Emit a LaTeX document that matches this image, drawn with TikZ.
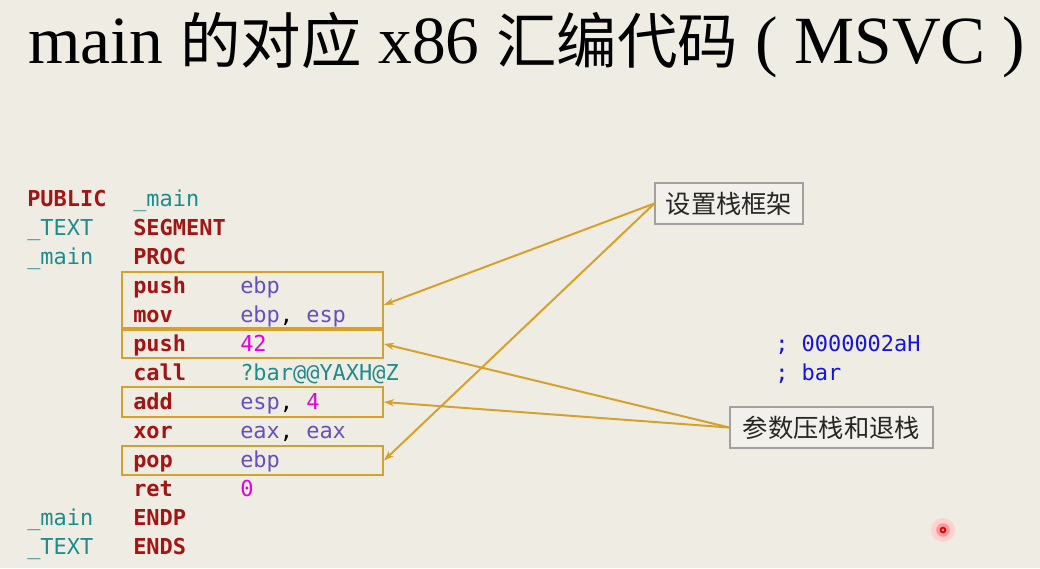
\documentclass[tikz,border=0pt]{standalone}
\usepackage{fontspec}
\setmainfont{Liberation Serif}
\setmonofont{DejaVu Sans Mono}
\newfontfamily\cjk{Noto Sans CJK SC}
\usepackage{xcolor}
\usepackage{tikz}
\usetikzlibrary{arrows.meta}

\definecolor{bgc}{RGB}{239,236,227}
\definecolor{kwred}{RGB}{163,21,21}
\definecolor{idteal}{RGB}{30,140,140}
\definecolor{regpurple}{RGB}{100,80,190}
\definecolor{nummag}{RGB}{225,0,225}
\definecolor{cmtblue}{RGB}{20,20,225}
\definecolor{hlorange}{RGB}{215,160,40}
\definecolor{tagfill}{RGB}{242,240,234}
\definecolor{taggray}{RGB}{160,160,160}

\newcommand{\kw}[1]{\textcolor{kwred}{\bfseries #1}}
\newcommand{\id}[1]{\textcolor{idteal}{#1}}
\newcommand{\rg}[1]{\textcolor{regpurple}{#1}}
\newcommand{\nm}[1]{\textcolor{nummag}{#1}}
\newcommand{\zh}[1]{{\cjk\fontsize{43}{50}\selectfont #1}}

\tikzset{
  code/.style={font=\ttfamily\fontsize{15.6}{18}\selectfont, inner sep=0, anchor=base west},
  hlbox/.style={draw=hlorange, line width=1.4pt, minimum width=6.525cm, inner sep=0},
  tag/.style={draw=taggray, fill=tagfill, line width=0.9pt, minimum height=1.025cm, inner sep=0,
    font=\cjk\fontsize{18}{20}\selectfont, text=black!85},
  pointer/.style={draw=hlorange, line width=1.4pt, -{Stealth[length=7pt,width=5pt]}}
}

\begin{document}
\begin{tikzpicture}[x=0.025cm,y=-0.025cm]
		\fill[bgc] (0,0) rectangle (1040,568);
		\node[anchor=base west, inner sep=0] (title) at (28,63)
			{\fontsize{48}{54}\selectfont main \zh{的对应} x86 \zh{汇编代码} ( MSVC )};
		% code listing
		\foreach \i/\t in {0/\kw{PUBLIC}, 1/\id{\_TEXT}, 2/\id{\_main}, 11/\id{\_main}, 12/\id{\_TEXT}}
			\node[code] (l\i) at (27,{206+29*\i}) {\t};
		\foreach \i/\t in {0/\id{\_main}, 1/\kw{SEGMENT}, 2/\kw{PROC}, 3/\kw{push}, 4/\kw{mov},
				5/\kw{push}, 6/\kw{call}, 7/\kw{add}, 8/\kw{xor}, 9/\kw{pop}, 10/\kw{ret},
				11/\kw{ENDP}, 12/\kw{ENDS}}
			\node[code] (o\i) at (133,{206+29*\i}) {\t};
		\foreach \i/\t in {3/{\rg{ebp}}, 4/{\rg{ebp}, \rg{esp}}, 5/{\nm{42}}, 6/{\id{?bar@@YAXH@Z}},
				7/{\rg{esp}, \nm{4}}, 8/{\rg{eax}, \rg{eax}}, 9/{\rg{ebp}}, 10/{\nm{0}}}
			\node[code] (a\i) at (240,{206+29*\i}) {\t};
		\node[code, text=cmtblue] (c5) at (775,351) {; 0000002aH};
		\node[code, text=cmtblue] (c6) at (775,380) {; bar};
		% highlighted instructions
		\node[hlbox, minimum height=1.4cm] (frame) at (252.5,300) {};
		\node[hlbox, minimum height=0.7cm] (arg) at (252.5,344) {};
		\node[hlbox, minimum height=0.75cm] (pop) at (252.5,402) {};
		\node[hlbox, minimum height=0.725cm] (restore) at (252.5,460.5) {};
		% notes
		\node[tag, minimum width=3.7cm] (setup) at (729,203.5) {设置栈框架};
		\node[tag, minimum width=5.075cm] (args) at (831.5,427.5) {参数压栈和退栈};
		\draw[pointer] (setup.west) -- ([yshift=-0.12cm]frame.east);
		\draw[pointer] (setup.west) -- (restore.east);
		\draw[pointer] (args.west) -- (arg.east);
		\draw[pointer] (args.west) -- (pop.east);
		% laser pointer
		\fill[red!18] (943,530) circle (0.3cm);
		\fill[red!40] (943,530) circle (0.17cm);
		\draw[red!85!black, line width=1.2pt] (943,530) circle (0.06cm);
	\end{tikzpicture}
\end{document}
